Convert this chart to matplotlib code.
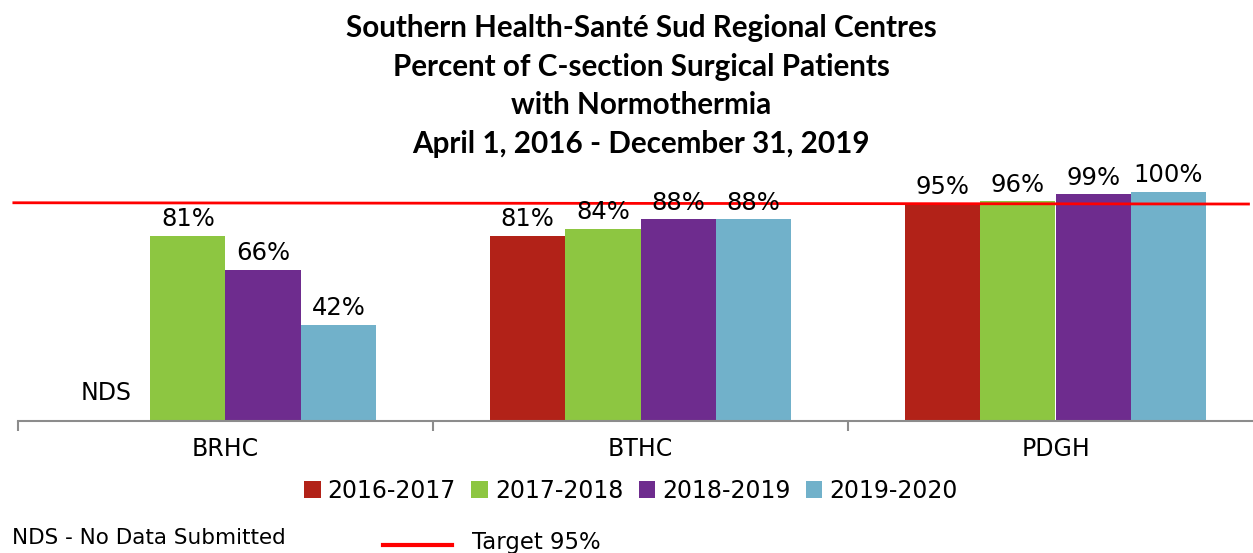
import matplotlib
matplotlib.use("Agg")
import matplotlib.pyplot as plt
from matplotlib.patches import Patch
from matplotlib.lines import Line2D
import numpy as np

categories = ["BRHC", "BTHC", "PDGH"]
series_names = ["2016-2017", "2017-2018", "2018-2019", "2019-2020"]
values = {
    "2016-2017": [None, 81, 95],
    "2017-2018": [81, 84, 96],
    "2018-2019": [66, 88, 99],
    "2019-2020": [42, 88, 100],
}
colors = ["#B22218", "#8DC641", "#6E2C8E", "#71B1CA"]
target = 95
title_lines = ["Southern Health-Santé Sud Regional Centres",
               "Percent of C-section Surgical Patients",
               "with Normothermia",
               "April 1, 2016 - December 31, 2019"]

W, H = 1253, 553
fig = plt.figure(figsize=(W / 100, H / 100), dpi=100)
ax_left, ax_right = 18, 1263
ax_bottom, ax_top = 421, 192
ax = fig.add_axes([ax_left / W, 1 - ax_bottom / H, (ax_right - ax_left) / W, (ax_bottom - ax_top) / H])
ax.set_xlim(0, 3)
ax.set_ylim(0, 100)

bw = 75.3 / 415
x = np.arange(len(categories)) + 0.5
lab_font = "DejaVu Sans"
for i, name in enumerate(series_names):
    vals = values[name]
    xs = x + (i - 1.5) * bw
    for xi, v in zip(xs, vals):
        if v is None:
            ax.text(xi - 0.015, 7, "NDS", ha="center", va="bottom", fontsize=17, family=lab_font)
            continue
        ax.bar(xi, v, width=bw, color=colors[i], linewidth=0)
        ax.text(xi, v + 2.0, f"{v}%", ha="center", va="bottom", fontsize=17.5, family=lab_font, clip_on=False)

for s in ["top", "right", "left"]:
    ax.spines[s].set_visible(False)
ax.spines["bottom"].set_color("#8C8C8C")
ax.spines["bottom"].set_linewidth(1.5)
ax.set_yticks([])
ax.set_xticks([0, 1, 2, 3])
ax.set_xticklabels([])
ax.tick_params(axis="x", length=7, width=1.5, color="#8C8C8C", direction="out")
for xi, c in zip(x, categories):
    ax.text(xi, -7, c, ha="center", va="top", fontsize=17, family=lab_font, transform=ax.transData)

# target line
ax.plot([-0.01, 2.965], [target + 0.3, target - 0.25], color="#FF0000", linewidth=2, clip_on=False)

# title
for k, t in enumerate(title_lines):
    fig.text(641 / W, 1 - (28 + k * 38.7) / H, t, ha="center", va="center",
             fontsize=21.3, fontweight="bold", family="Lato")

# legend
handles = [Patch(facecolor=c, edgecolor="none") for c in colors]
leg = fig.legend(handles, series_names, loc="center", bbox_to_anchor=(631 / W, 1 - 491 / H),
                 ncol=4, frameon=False, prop={"family": lab_font, "size": 17.0},
                 handlelength=0.7, handleheight=0.7, handletextpad=0.3, columnspacing=0.65)

fig.text(12 / W, 1 - 538 / H, "NDS - No Data Submitted", ha="left", va="center", fontsize=15.5, family=lab_font)
fig.add_artist(Line2D([383 / W, 452 / W], [1 - 545 / H, 1 - 545 / H], color="#FF0000", linewidth=3))
fig.text(472 / W, 1 - 543 / H, "Target 95%", ha="left", va="center", fontsize=16.4, family=lab_font)

fig.savefig("out.png", dpi=100)
